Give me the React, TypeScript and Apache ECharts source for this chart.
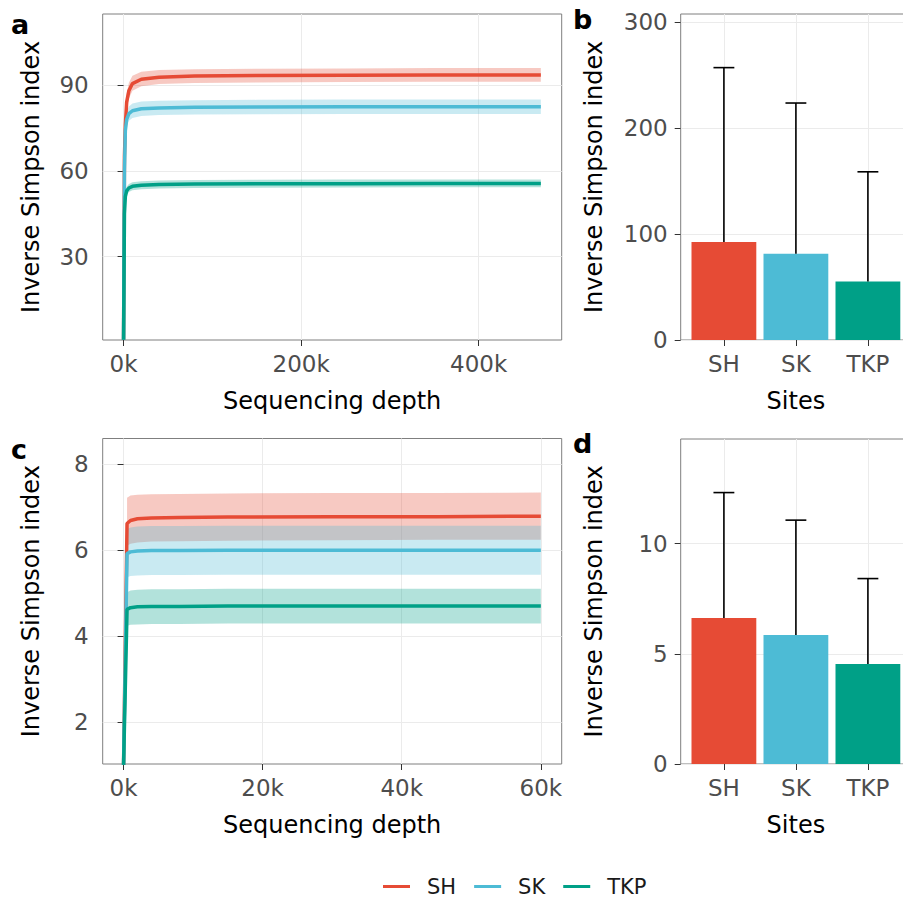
import React, { useEffect, useRef } from "react";
import * as echarts from "echarts";

// ---------- data ----------
const sites = ["SH", "SK", "TKP"];
const siteColors = ["#E64B35", "#4DBBD5", "#00A087"];
const bandFills = ["rgba(230,75,53,0.3)", "rgba(77,187,213,0.3)", "rgba(0,160,135,0.3)"];

// panel a: rarefaction, full depth
const depthA = [1, 1000, 2000, 3500, 6000, 10000, 20000, 40000, 80000, 150000, 250000, 350000, 470000];
const shA = [1, 65, 76, 84, 88, 90.5, 92.0, 92.7, 93.1, 93.3, 93.4, 93.5, 93.5];
const shALo = [null, 62, 73, 80.5, 85.3, 88.0, 89.6, 90.3, 90.7, 90.9, 91.0, 91.1, 91.1];
const shAHi = [null, 68, 79, 87.0, 90.8, 93.2, 94.6, 95.2, 95.5, 95.7, 95.8, 95.9, 95.9];
const skA = [1, 60, 74, 78, 80, 81.0, 81.7, 82.0, 82.2, 82.3, 82.4, 82.4, 82.4];
const skALo = [null, 57.5, 71.5, 75.5, 77.5, 78.5, 79.2, 79.5, 79.7, 79.8, 79.9, 79.9, 79.9];
const skAHi = [null, 62.5, 76.5, 80.5, 82.5, 83.5, 84.2, 84.5, 84.7, 84.8, 84.9, 84.9, 84.9];
const tkpA = [1, 45, 51, 53, 54.0, 54.6, 55.0, 55.2, 55.4, 55.5, 55.5, 55.6, 55.6];
const tkpALo = [null, 43.5, 49.6, 51.6, 52.6, 53.2, 53.6, 53.8, 54.0, 54.1, 54.2, 54.3, 54.3];
const tkpAHi = [null, 46.5, 52.4, 54.4, 55.4, 56.0, 56.4, 56.6, 56.8, 56.9, 57.0, 57.0, 57.0];

// panel c: rarefaction, rarefied depth
const depthC = [1, 500, 1000, 2000, 4000, 8000, 15000, 30000, 45000, 60000];
const shC = [1, 6.62, 6.69, 6.73, 6.75, 6.76, 6.77, 6.78, 6.78, 6.79];
const shCLo = [null, 6.10, 6.15, 6.18, 6.20, 6.21, 6.22, 6.23, 6.24, 6.24];
const shCHi = [null, 7.22, 7.27, 7.29, 7.30, 7.31, 7.32, 7.33, 7.33, 7.34];
const skC = [1, 5.92, 5.96, 5.98, 5.99, 5.99, 6.0, 6.0, 6.0, 6.0];
const skCLo = [null, 5.37, 5.40, 5.41, 5.42, 5.42, 5.43, 5.43, 5.43, 5.43];
const skCHi = [null, 6.49, 6.53, 6.55, 6.56, 6.56, 6.57, 6.57, 6.57, 6.57];
const tkpC = [1, 4.62, 4.66, 4.68, 4.69, 4.69, 4.70, 4.70, 4.70, 4.70];
const tkpCLo = [null, 4.24, 4.26, 4.27, 4.28, 4.28, 4.29, 4.29, 4.29, 4.29];
const tkpCHi = [null, 5.02, 5.06, 5.08, 5.09, 5.09, 5.10, 5.10, 5.10, 5.10];

// panels b and d: mean with upper error
const meanB = [92.4, 81.4, 55.2];
const upperB = [257, 223.6, 158.7];
const meanD = [6.62, 5.85, 4.53];
const upperD = [12.31, 11.06, 8.41];

// tick values
const xTicksA = [0, 200000, 400000];
const yTicksA = [30, 60, 90];
const xTicksC = [0, 20000, 40000, 60000];
const yTicksC = [2, 4, 6, 8];
const yTicksB = [0, 100, 200, 300];
const yTicksD = [0, 5, 10];
const siteTicks = [1, 2, 3];

// ---------- styling ----------
const FONT = "DejaVu Sans";
const TICK_FS = 23;
const TITLE_FS = 24;
const GRID_BORDER = "#7f7f7f";
const SPLIT = { show: true, lineStyle: { color: "#EBEBEB", width: 1 } };
const kFmt = (v: number) => `${v / 1000}k`;

function bandSeries(idx: number, depth: number[], lo: (number | null)[], hi: (number | null)[], fill: string) {
  const rows: number[][] = [];
  depth.forEach((d, i) => {
    if (lo[i] != null && hi[i] != null) rows.push([d, lo[i] as number, hi[i] as number]);
  });
  return {
    type: "custom",
    xAxisIndex: idx,
    yAxisIndex: idx,
    silent: true,
    clip: true,
    z: 1,
    encode: { x: 0, y: [1, 2] },
    data: rows,
    renderItem: (params: any, api: any) => {
      if (params.dataIndex !== 0) return null;
      const pts: number[][] = [];
      rows.forEach((r) => pts.push(api.coord([r[0], r[2]])));
      for (let i = rows.length - 1; i >= 0; i--) pts.push(api.coord([rows[i][0], rows[i][1]]));
      return { type: "polygon", shape: { points: pts }, style: { fill } };
    },
  };
}

function lineSeries(idx: number, name: string, depth: number[], vals: number[], color: string) {
  return {
    type: "line",
    name,
    xAxisIndex: idx,
    yAxisIndex: idx,
    data: depth.map((d, i) => [d, vals[i]]),
    showSymbol: false,
    symbol: "none",
    clip: true,
    z: 3,
    lineStyle: { width: 3.5, color },
    itemStyle: { color },
  };
}

function barSeries(idx: number, means: number[]) {
  return {
    type: "bar",
    name: "bars" + idx,
    xAxisIndex: idx,
    yAxisIndex: idx,
    barWidth: 64.8,
    z: 3,
    data: means.map((m, i) => ({ value: [i + 1, m], itemStyle: { color: siteColors[i] } })),
  };
}

function errSeries(idx: number, means: number[], uppers: number[]) {
  return {
    type: "custom",
    xAxisIndex: idx,
    yAxisIndex: idx,
    silent: true,
    z: 4,
    encode: { x: 0, y: [1, 2] },
    data: means.map((m, i) => [i + 1, m, uppers[i]]),
    renderItem: (params: any, api: any) => {
      const x = api.value(0);
      const pm = api.coord([x, api.value(1)]);
      const pu = api.coord([x, api.value(2)]);
      const half = api.size([0.29, 0])[0] / 2;
      const st = { stroke: "#000", lineWidth: 1.6 };
      return {
        type: "group",
        children: [
          { type: "line", shape: { x1: pm[0], y1: pm[1], x2: pu[0], y2: pu[1] }, style: st },
          { type: "line", shape: { x1: pu[0] - half, y1: pu[1], x2: pu[0] + half, y2: pu[1] }, style: st },
        ],
      };
    },
  };
}

const axisLabelBase = { color: "#4D4D4D", fontSize: TICK_FS, fontFamily: FONT };
const tickBase = { show: true, length: 6, lineStyle: { color: "#333333", width: 1 } };
const nameBase = { color: "#000", fontSize: TITLE_FS, fontFamily: FONT };

function xValueAxis(idx: number, min: number, max: number, ticks: number[], fmt: (v: number) => string, name: string) {
  return {
    type: "value",
    gridIndex: idx,
    min,
    max,
    name,
    nameLocation: "middle",
    nameGap: 49,
    nameTextStyle: nameBase,
    axisLine: { show: false },
    axisTick: { ...tickBase, customValues: ticks },
    axisLabel: { ...axisLabelBase, margin: 12, customValues: ticks, formatter: fmt },
    splitLine: SPLIT,
  };
}

function yValueAxis(idx: number, min: number, max: number, ticks: number[], gap: number, margin: number) {
  return {
    type: "value",
    gridIndex: idx,
    min,
    max,
    name: "Inverse Simpson index",
    nameLocation: "middle",
    nameGap: gap,
    nameTextStyle: nameBase,
    axisLine: { show: false },
    axisTick: { ...tickBase, customValues: ticks },
    axisLabel: { ...axisLabelBase, margin, customValues: ticks },
    splitLine: SPLIT,
  };
}

function buildOption() {
  const gridBase = { show: true, borderColor: GRID_BORDER, borderWidth: 1, backgroundColor: "transparent", containLabel: false };
  return {
    animation: false,
    textStyle: { fontFamily: FONT },
    grid: [
      { ...gridBase, left: 102.7, top: 14, width: 459, height: 326 },
      { ...gridBase, left: 680.7, top: 14, width: 230.4, height: 326 },
      { ...gridBase, left: 102.7, top: 438.5, width: 459, height: 325.5 },
      { ...gridBase, left: 680.7, top: 439, width: 230.4, height: 325 },
    ],
    xAxis: [
      xValueAxis(0, -23500, 493500, xTicksA, kFmt, "Sequencing depth"),
      xValueAxis(1, 0.4, 3.6, siteTicks, (v: number) => sites[v - 1], "Sites"),
      xValueAxis(2, -3000, 63000, xTicksC, kFmt, "Sequencing depth"),
      xValueAxis(3, 0.4, 3.6, siteTicks, (v: number) => sites[v - 1], "Sites"),
    ],
    yAxis: [
      yValueAxis(0, 0.9, 114.8, yTicksA, 60, 14),
      yValueAxis(1, 0, 307.6, yTicksB, 75, 13),
      yValueAxis(2, 1.02, 8.6, yTicksC, 60, 14),
      yValueAxis(3, 0, 14.74, yTicksD, 75, 13),
    ],
    legend: {
      data: sites,
      left: 383,
      top: 876,
      padding: 0,
      icon: "path://M0 0H27V3H0Z M39 3",
      itemWidth: 39,
      itemHeight: 3,
      itemGap: 18,
      textStyle: { fontSize: 21, color: "#1a1a1a", fontFamily: FONT },
    },
    graphic: [
      { type: "text", left: 11, top: 11, style: { text: "a", font: `bold 27px ${FONT}`, fill: "#000" } },
      { type: "text", left: 573, top: 6, style: { text: "b", font: `bold 27px ${FONT}`, fill: "#000" } },
      { type: "text", left: 11, top: 436, style: { text: "c", font: `bold 27px ${FONT}`, fill: "#000" } },
      { type: "text", left: 573, top: 430, style: { text: "d", font: `bold 27px ${FONT}`, fill: "#000" } },
    ],
    series: [
      bandSeries(0, depthA, shALo, shAHi, bandFills[0]),
      bandSeries(0, depthA, skALo, skAHi, bandFills[1]),
      bandSeries(0, depthA, tkpALo, tkpAHi, bandFills[2]),
      lineSeries(0, "SH", depthA, shA, siteColors[0]),
      lineSeries(0, "SK", depthA, skA, siteColors[1]),
      lineSeries(0, "TKP", depthA, tkpA, siteColors[2]),
      bandSeries(2, depthC, shCLo, shCHi, bandFills[0]),
      bandSeries(2, depthC, skCLo, skCHi, bandFills[1]),
      bandSeries(2, depthC, tkpCLo, tkpCHi, bandFills[2]),
      lineSeries(2, "SH", depthC, shC, siteColors[0]),
      lineSeries(2, "SK", depthC, skC, siteColors[1]),
      lineSeries(2, "TKP", depthC, tkpC, siteColors[2]),
      barSeries(1, meanB),
      errSeries(1, meanB, upperB),
      barSeries(3, meanD),
      errSeries(3, meanD, upperD),
    ],
  };
}

export default function App() {
  const ref = useRef<HTMLDivElement>(null);
  useEffect(() => {
    if (!ref.current) return;
    const chart = echarts.init(ref.current, null, { renderer: "svg" });
    chart.setOption(buildOption() as any);
    return () => chart.dispose();
  }, []);
  return (
    <div style={{ position: "fixed", left: 0, top: 0, width: 903, height: 900, overflow: "hidden", background: "#fff" }}>
      <div ref={ref} style={{ width: 920, height: 900 }} />
    </div>
  );
}
